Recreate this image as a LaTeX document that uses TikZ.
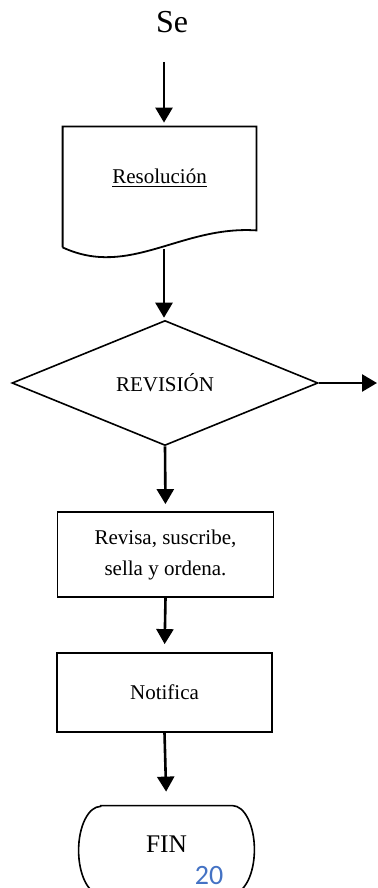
\documentclass[tikz,border=0pt]{standalone}
\usepackage{fontspec}
\setmainfont{Liberation Serif}
\newfontfamily\pagefont{Carlito}
\usetikzlibrary{shapes.geometric,arrows.meta}
\definecolor{pageblue}{RGB}{68,114,196}
\tikzset{
  flow/.style={-{Triangle[length=7.5pt,width=8.5pt]},line width=1.3pt},
  proc/.style={draw,line width=0.9pt,minimum width=108pt,align=center,
    font=\fontsize{10.5}{15.5}\selectfont}
}
\begin{document}
\begin{tikzpicture}[x=0.5pt,y=-0.5pt,font=\fontsize{10.5}{12.6}\selectfont]
  \useasboundingbox (0,0) rectangle (377,888);
  \node[anchor=base,font=\fontsize{16}{19}\selectfont] (se) at (172,33) {Se};
  \coordinate (in) at (164,62);
  % documento
  \node[minimum width=96.5pt,minimum height=51.5pt] (doc) at (159.5,178.5)
    {\underline{Resolución}};
  \draw[line width=0.9pt] ([yshift=-8.5pt]doc.south west) -- (doc.north west)
    -- (doc.north east) -- (doc.south east)
    .. controls +(-76,-5) and +(67,31) .. ([yshift=-8.5pt]doc.south west);
  \coordinate (docout) at (164,249);
  \node[draw,diamond,line width=0.8pt,minimum width=153pt,minimum height=62.5pt,
    inner sep=0pt] (rev) at (165,383) {REVISIÓN};
  \coordinate (out) at (377,383);
  \node[proc,minimum height=42.5pt] (sus) at (165.5,554.5)
    {Revisa, suscribe,\\sella y ordena.};
  \node[proc,minimum height=39.5pt,minimum width=107.5pt] (notif) at (164.5,692.5)
    {Notifica};
  % terminal
  \node[minimum width=87.5pt,minimum height=44pt,text depth=6pt,
    font=\fontsize{12.7}{15}\selectfont] (fin) at (166.5,850) {FIN};
  \draw[line width=0.8pt] ([xshift=11pt]fin.north west) -- ([xshift=-11pt]fin.north east)
    arc[start angle=90,end angle=-90,x radius=11pt,y radius=22pt]
    -- ([xshift=11pt]fin.south west)
    arc[start angle=270,end angle=90,x radius=11pt,y radius=22pt] -- cycle;
  \node[anchor=base,inner sep=0pt,font=\pagefont\fontsize{14}{17}\selectfont,
    text=pageblue] (pag) at (209,884) {20};
  % flechas
  \draw[flow,shorten >=2pt] (in) -- (in |- doc.north);
  \draw[flow,shorten >=1pt] (docout) -- (docout |- rev.north);
  \draw[flow] (rev.east) -- (out);
  \draw[flow,shorten >=3.5pt] (rev.south) -- (sus.north);
  \draw[flow,shorten >=4pt] (sus.south) -- (notif.north);
  \draw[flow,shorten >=7pt] (notif.south) -- (fin.north);
\end{tikzpicture}
\end{document}
